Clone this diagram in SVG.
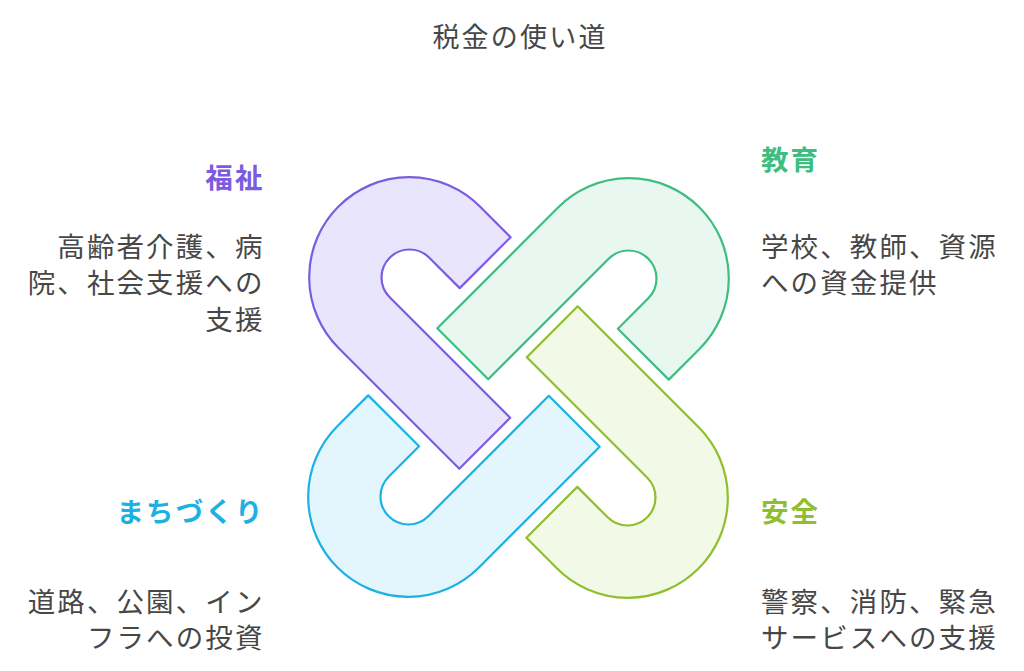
<svg xmlns="http://www.w3.org/2000/svg" width="1024" height="671" viewBox="0 0 1024 671">
<defs>
<style>
text{font-family:"Noto Sans CJK JP","Noto Sans CJK SC",sans-serif;font-size:27.5px;letter-spacing:2.1px;dominant-baseline:central}
.body{fill:#474747}
.title{fill:#474747;text-anchor:middle;font-size:27px;letter-spacing:2.2px}
.h{font-weight:bold}
.end{text-anchor:end}
.link{stroke-width:2.2;stroke-linejoin:round}
</style>
<path id="link" d="M 510.6 237.2 L 480.21 206.79 A 100 100 0 1 0 338.79 348.21 L 459.3 468.7 L 510.2 417.8 L 389.7 297.3 A 28 28 0 1 1 429.3 257.7 L 459.7 288.1 Z"/>
</defs>
<rect width="1024" height="671" fill="#ffffff"/>
<text class="title" x="520" y="35">税金の使い道</text>
<g id="connectors"></g>
<g id="node-welfare">
<use href="#link" class="link" fill="#E9E5FD" stroke="#7B5CE0"/>
<text class="h end" x="264.5" y="176" fill="#7B5CE0">福祉</text>
<text class="body end" x="264.5" y="245">高齢者介護、病</text>
<text class="body end" x="264.5" y="281">院、社会支援への</text>
<text class="body end" x="264.5" y="318">支援</text>
</g>
<g id="node-education">
<use href="#link" class="link" fill="#E8F8F0" stroke="#3DBE80" transform="rotate(90 518.5 387.5)"/>
<text class="h" x="761" y="158" fill="#3DBE80">教育</text>
<text class="body" x="761" y="245">学校、教師、資源</text>
<text class="body" x="761" y="281">への資金提供</text>
</g>
<g id="node-safety">
<use href="#link" class="link" fill="#F2F9E7" stroke="#8FBF30" transform="rotate(180 518.5 387.5)"/>
<text class="h" x="761" y="510" fill="#8FBF30">安全</text>
<text class="body" x="761" y="600">警察、消防、緊急</text>
<text class="body" x="761" y="636">サービスへの支援</text>
</g>
<g id="node-town">
<use href="#link" class="link" fill="#E3F6FD" stroke="#1DB0E3" transform="rotate(270 518.5 387.5)"/>
<text class="h end" x="264.5" y="510" fill="#1DB0E3">まちづくり</text>
<text class="body end" x="264.5" y="600">道路、公園、イン</text>
<text class="body end" x="264.5" y="636">フラへの投資</text>
</g>
</svg>
